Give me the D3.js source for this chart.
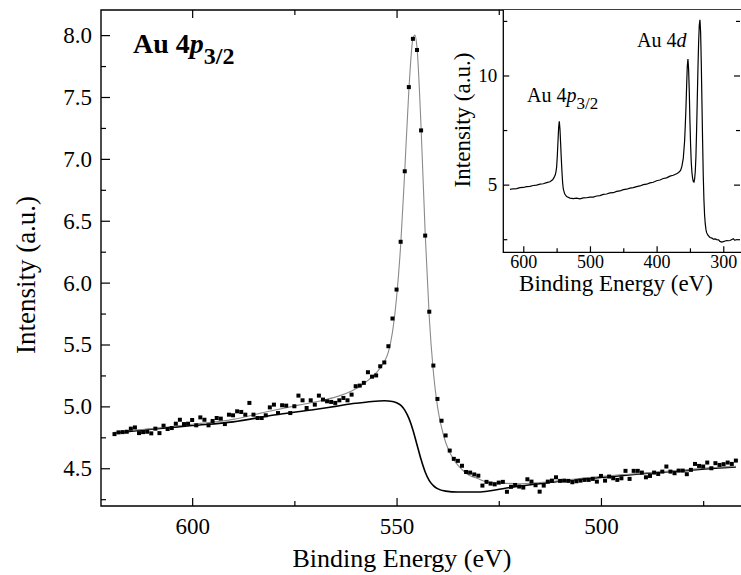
<!DOCTYPE html>
<html>
<head>
<meta charset="utf-8">
<script src="https://cdn.jsdelivr.net/npm/d3@7"></script>
<style>
  body { margin: 0; background: #fff; }
  text { font-family: "Liberation Serif", "Times New Roman", serif; fill: #000; }
</style>
</head>
<body>
<div id="chart"></div>
<script>
var svgWidth = 741;
var svgHeight = 575;

// Au 4p3/2 region, measured points (eV, a.u.)
var energy = [619,618,617,616,615,614,613,612,611,610,609,608,607,606,605,604,603,602,601,600,
  599,598,597,596,595,594,593,592,591,590,589,588,587,586,585,584,583,582,581,580,
  579,578,577,576,575,574,573,572,571,570,569,568,567,566,565,564,563,562,561,560,
  559,558,557,556,555,554,553,552,551,550,549,548,547,546,545,544,543,542,541,540,
  539,538,537,536,535,534,533,532,531,530,529,528,527,526,525,524,523,522,521,520,
  519,518,517,516,515,514,513,512,511,510,509,508,507,506,505,504,503,502,501,500,
  499,498,497,496,495,494,493,492,491,490,489,488,487,486,485,484,483,482,481,480,
  479,478,477,476,475,474,473,472,471,470,469,468,467];
var intensity = [4.776,4.790,4.792,4.795,4.820,4.830,4.784,4.792,4.795,4.782,4.820,4.784,4.844,4.817,4.825,4.860,4.892,4.857,4.860,4.890,
  4.847,4.911,4.892,4.847,4.882,4.906,4.901,4.857,4.933,4.928,4.960,4.955,4.933,5.028,4.933,4.906,4.906,4.928,4.992,5.014,
  4.946,5.009,5.006,4.946,5.001,5.087,5.049,4.987,5.049,5.014,5.087,5.055,5.041,5.036,5.028,5.049,5.068,5.049,5.095,5.163,
  5.168,5.190,5.276,5.240,5.250,5.324,5.355,5.486,5.710,5.944,6.33,6.90,7.58,7.97,7.88,7.23,6.38,5.765,5.33,5.06,
  4.884,4.765,4.643,4.576,4.56,4.52,4.47,4.465,4.45,4.44,4.36,4.39,4.376,4.37,4.384,4.39,4.31,4.35,4.365,4.352,
  4.344,4.411,4.392,4.363,4.311,4.360,4.392,4.400,4.427,4.398,4.400,4.398,4.387,4.395,4.400,4.406,4.406,4.414,4.392,4.438,
  4.400,4.433,4.419,4.406,4.419,4.479,4.414,4.479,4.479,4.465,4.427,4.438,4.465,4.454,4.473,4.514,4.473,4.460,4.481,4.481,
  4.452,4.487,4.535,4.519,4.514,4.546,4.500,4.541,4.527,4.533,4.546,4.535,4.562];

// peak fit (grey)
var fitEnergy = [619,615,610,600,590,582,574,568,564,561,559,557,555,553,552,551,550,549,548,547,546,545.5,545,544,543,542,541,540,
  539,538,537,536,535,534,533,532,530,528,524,520,515,510,500,490,480,470,467];
var fitIntensity = [4.79,4.805,4.82,4.855,4.895,4.955,5.01,5.05,5.085,5.125,5.16,5.21,5.27,5.36,5.44,5.60,5.88,6.30,6.90,7.55,7.97,8.00,7.90,7.25,6.40,5.72,5.28,5.00,
  4.83,4.71,4.63,4.57,4.525,4.49,4.46,4.44,4.415,4.39,4.38,4.375,4.385,4.40,4.435,4.46,4.485,4.51,4.515];

// Shirley background (black)
var bgEnergy = [619,610,600,590,580,570,565,560,556,553,551,550,549,548,547,546,545,544,543,542,541,540,538,535,530,527,524,520,515,510,500,490,480,470,467];
var bgIntensity = [4.785,4.815,4.845,4.875,4.93,4.975,5.0,5.025,5.04,5.045,5.04,5.03,5.01,4.97,4.905,4.81,4.69,4.57,4.47,4.40,4.36,4.335,4.315,4.308,4.308,4.318,4.335,4.355,4.375,4.395,4.425,4.455,4.48,4.505,4.51];

// survey spectrum for the inset
var surveyEnergy = [620,615,610,605,600,595,590,585,580,575,570,565,560,556,554,552,551,550,549,548,547,546,545,544,543,542,541,540,538,535,
  530,525,520,515,510,505,500,495,490,485,480,475,470,465,460,455,450,445,440,435,430,425,420,415,410,405,400,395,390,385,
  380,375,370,367,364,362,360,358,357,356,355,354,353,352,351,350,349,348,347,346,345,344,343,342,341,340,339,338,337,336,
  335,334,333,332,331,330,329,328,327,326,325,323,320,317,315,312,310,307,305,302,300,297,295,292,290,287,285,283,281];
var surveyIntensity = [4.78,4.81,4.82,4.86,4.87,4.91,4.92,4.96,4.98,5.02,5.04,5.09,5.13,5.22,5.32,5.45,5.58,5.80,6.30,6.95,7.60,7.90,7.55,6.90,6.20,5.60,5.10,4.80,4.58,4.45,
  4.38,4.36,4.38,4.35,4.39,4.40,4.43,4.43,4.48,4.50,4.55,4.57,4.62,4.63,4.69,4.71,4.77,4.79,4.84,4.86,4.91,4.94,5.00,5.02,5.08,5.11,5.18,5.21,5.28,5.31,
  5.39,5.43,5.50,5.56,5.65,5.85,6.20,7.00,7.70,8.50,9.50,10.40,10.75,10.30,9.30,7.90,6.80,6.00,5.55,5.30,5.15,5.12,5.25,5.60,6.30,7.50,8.90,10.30,11.50,12.30,
  12.55,12.00,10.60,8.80,7.00,5.40,4.30,3.60,3.20,2.95,2.80,2.68,2.58,2.55,2.50,2.51,2.48,2.47,2.40,2.37,2.39,2.42,2.44,2.43,2.44,2.49,2.52,2.46,2.47];

var xTicks = [600, 550, 500];
var xMinorTicks = [575, 525, 475];
var yTicks = [4.5, 5.0, 5.5, 6.0, 6.5, 7.0, 7.5, 8.0];
var yMinorTicks = [4.25, 4.75, 5.25, 5.75, 6.25, 6.75, 7.25, 7.75];
var insetXTicks = [600, 500, 400, 300];
var insetXMinor = [550, 450, 350];
var insetYTicks = [5, 10];
var insetYMinor = [2.5, 7.5, 12.5];

var plot = { left: 101, right: 742, top: 10, bottom: 506 };
var inset = { left: 503.3, right: 741, top: 10, bottom: 252.3 };

var svg = d3.select("#chart")
  .append("svg")
  .attr("width", svgWidth)
  .attr("height", svgHeight);

var xScale = d3.scaleLinear()
  .domain([622.3, 465.5])
  .range([plot.left, plot.right]);

var yScale = d3.scaleLinear()
  .domain([4.195, 8.203])
  .range([plot.bottom, plot.top]);

// frame
svg.append("path")
  .attr("d", `M${plot.right},${plot.top}H${plot.left}V${plot.bottom}H${plot.right}`)
  .attr("fill", "none")
  .attr("stroke", "#000")
  .attr("stroke-width", 1.4);

function tickAxis(axis, y, size, values, labels, pad) {
  var g = svg.append("g")
    .attr("transform", y)
    .call(axis.tickValues(values).tickSize(size).tickPadding(pad)
      .tickFormat(labels ? labels : ""));
  g.attr("font-family", null);
  g.select(".domain").remove();
  g.selectAll("line").attr("stroke", "#000").attr("stroke-width", 1.2);
  return g;
}

// main axes, ticks pointing in
var bottomAxis = tickAxis(d3.axisBottom(xScale), `translate(0,${plot.bottom})`, -8, xTicks, d3.format("d"), 12);
tickAxis(d3.axisBottom(xScale), `translate(0,${plot.bottom})`, -5, xMinorTicks, null, 0);
tickAxis(d3.axisTop(xScale), `translate(0,${plot.top})`, -8, [600, 550], null, 0);
tickAxis(d3.axisTop(xScale), `translate(0,${plot.top})`, -5, [575, 525], null, 0);
var leftAxis = tickAxis(d3.axisLeft(yScale), `translate(${plot.left},0)`, -9, yTicks, d3.format(".1f"), 9);
tickAxis(d3.axisLeft(yScale), `translate(${plot.left},0)`, -5, yMinorTicks, null, 0);

bottomAxis.selectAll("text").style("font-size", "23px").attr("fill", "#000");
leftAxis.selectAll("text").style("font-size", "23px").attr("fill", "#000");

// curves
var bgLine = d3.line()
  .x((d, i) => xScale(bgEnergy[i]))
  .y(d => yScale(d))
  .curve(d3.curveMonotoneX);

var fitLine = d3.line()
  .x((d, i) => xScale(fitEnergy[i]))
  .y(d => yScale(d))
  .curve(d3.curveMonotoneX);

svg.append("path")
  .attr("d", bgLine(bgIntensity))
  .attr("fill", "none")
  .attr("stroke", "#000")
  .attr("stroke-width", 1.6);

svg.append("path")
  .attr("d", fitLine(fitIntensity))
  .attr("fill", "none")
  .attr("stroke", "#8a8a8a")
  .attr("stroke-width", 1.1);

svg.selectAll("rect.pt")
  .data(intensity)
  .enter()
  .append("rect")
  .classed("pt", true)
  .attr("x", (d, i) => xScale(energy[i]) - 2)
  .attr("y", d => yScale(d) - 2)
  .attr("width", 4)
  .attr("height", 4)
  .attr("fill", "#000");

// axis titles
svg.append("text")
  .attr("transform", "translate(35,275) rotate(-90)")
  .attr("text-anchor", "middle")
  .style("font-size", "27px")
  .text("Intensity (a.u.)");

svg.append("text")
  .attr("x", 402)
  .attr("y", 567)
  .attr("text-anchor", "middle")
  .style("font-size", "26px")
  .text("Binding Energy (eV)");

var label = svg.append("text")
  .attr("x", 133)
  .attr("y", 53)
  .style("font-size", "28px")
  .style("font-weight", "bold");
label.append("tspan").text("Au 4");
label.append("tspan").style("font-style", "italic").text("p");
label.append("tspan").attr("dy", 11).style("font-size", "24px").text("3/2");

// ---- inset: survey spectrum ----
var ix = d3.scaleLinear()
  .domain([630, 273.4])
  .range([inset.left, inset.right]);

var iy = d3.scaleLinear()
  .domain([1.9, 13.0])
  .range([inset.bottom, inset.top]);

svg.append("rect")
  .attr("x", inset.left)
  .attr("y", inset.top)
  .attr("width", inset.right - inset.left)
  .attr("height", inset.bottom - inset.top)
  .attr("fill", "#fff");

svg.append("path")
  .attr("d", `M${inset.left},${inset.top}V${inset.bottom}H${inset.right}`)
  .attr("fill", "none")
  .attr("stroke", "#000")
  .attr("stroke-width", 1.3);

var insetBottom = tickAxis(d3.axisBottom(ix), `translate(0,${inset.bottom})`, -6, insetXTicks, d3.format("d"), 3);
tickAxis(d3.axisBottom(ix), `translate(0,${inset.bottom})`, -4, insetXMinor, null, 0);
var insetLeft = tickAxis(d3.axisLeft(iy), `translate(${inset.left},0)`, -6, insetYTicks, d3.format("d"), 6);
tickAxis(d3.axisLeft(iy), `translate(${inset.left},0)`, -4, insetYMinor, null, 0);
tickAxis(d3.axisRight(iy), `translate(${inset.right - 1},0)`, -6, insetYTicks, null, 0);
tickAxis(d3.axisRight(iy), `translate(${inset.right - 1},0)`, -4, insetYMinor, null, 0);

insetBottom.selectAll("text").style("font-size", "18px").attr("fill", "#000");
insetLeft.selectAll("text").style("font-size", "19px").attr("fill", "#000");

var surveyLine = d3.line()
  .x((d, i) => ix(surveyEnergy[i]))
  .y(d => iy(d));

svg.append("path")
  .attr("d", surveyLine(surveyIntensity))
  .attr("fill", "none")
  .attr("stroke", "#000")
  .attr("stroke-width", 1.2);

svg.append("text")
  .attr("transform", "translate(470,120) rotate(-90)")
  .attr("text-anchor", "middle")
  .style("font-size", "23px")
  .text("Intensity (a.u.)");

svg.append("text")
  .attr("x", 616)
  .attr("y", 291)
  .attr("text-anchor", "middle")
  .style("font-size", "23px")
  .text("Binding Energy (eV)");

var pLabel = svg.append("text")
  .attr("x", 527)
  .attr("y", 102)
  .style("font-size", "20px");
pLabel.append("tspan").text("Au 4");
pLabel.append("tspan").style("font-style", "italic").text("p");
pLabel.append("tspan").attr("dy", 7).style("font-size", "17px").text("3/2");

var dLabel = svg.append("text")
  .attr("x", 637)
  .attr("y", 47)
  .style("font-size", "20px");
dLabel.append("tspan").text("Au 4");
dLabel.append("tspan").style("font-style", "italic").text("d");
</script>
</body>
</html>
